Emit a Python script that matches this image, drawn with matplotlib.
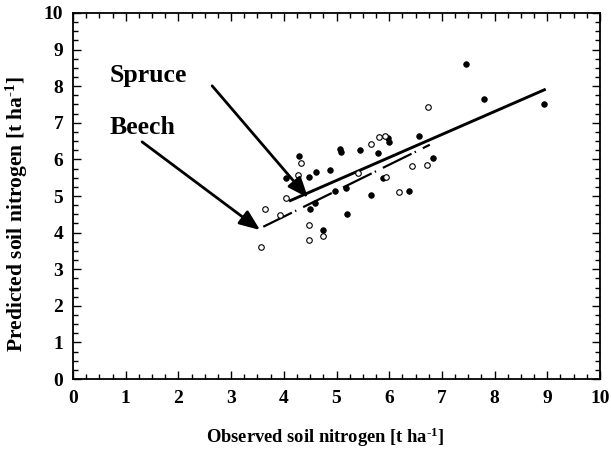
import numpy as np
import matplotlib
matplotlib.use("Agg")
import matplotlib.pyplot as plt
from matplotlib.ticker import MultipleLocator

plt.rcParams["font.family"] = ["Liberation Serif", "DejaVu Serif"]
plt.rcParams["font.weight"] = "bold"
plt.rcParams["mathtext.fontset"] = "custom"
plt.rcParams["mathtext.rm"] = "Liberation Serif:bold"
plt.rcParams["mathtext.bf"] = "Liberation Serif:bold"
plt.rcParams["mathtext.it"] = "Liberation Serif:bold"
plt.rcParams["lines.scale_dashes"] = False

# Spruce plots (filled circles): observed vs predicted soil nitrogen
spruce_obs = [4.28, 4.04, 4.48, 4.62, 4.88, 5.07, 5.09, 5.45, 5.78, 5.97, 6.00,
              5.88, 4.97, 5.18, 5.65, 4.59, 4.50, 5.19, 4.74, 7.45, 7.80, 8.93,
              6.57, 6.84, 6.38]
spruce_pred = [6.10, 5.49, 5.52, 5.65, 5.72, 6.28, 6.21, 6.26, 6.18, 6.58, 6.47,
               5.49, 5.15, 5.21, 5.02, 4.80, 4.64, 4.50, 4.06, 8.61, 7.66, 7.52,
               6.65, 6.03, 5.13]

# Beech plots (open circles)
beech_obs = [4.33, 4.26, 4.05, 3.64, 3.93, 4.48, 3.56, 4.47, 4.74, 5.66, 5.81,
             5.92, 5.41, 5.94, 6.18, 6.73, 6.44, 6.71]
beech_pred = [5.91, 5.57, 4.94, 4.65, 4.49, 4.22, 3.61, 3.79, 3.91, 6.42, 6.60,
              6.65, 5.62, 5.53, 5.12, 7.43, 5.82, 5.84]

# Regression lines: slope, intercept and fitted x range
spruce_fit = (0.628, 2.285)
spruce_range = (4.10, 8.97)
beech_fit = (0.709, 1.60)
beech_range = (3.61, 6.77)

fig = plt.figure(figsize=(6.11, 4.51), dpi=100)
ax = fig.add_axes([0.1195, 0.1596, 0.8625, 0.8116])

ax.scatter(spruce_obs, spruce_pred, s=16, c="black", edgecolors="black",
           linewidths=0.6, zorder=3)
ax.scatter(beech_obs, beech_pred, s=16, facecolors="white", edgecolors="black",
           linewidths=0.8, zorder=3)

xs = np.array(spruce_range)
ax.plot(xs, spruce_fit[0] * xs + spruce_fit[1], color="black", lw=2.1,
        solid_capstyle="butt", zorder=2)
xb = np.array(beech_range)
ax.plot(xb, beech_fit[0] * xb + beech_fit[1], color="black", lw=1.6,
        linestyle=(0, (23, 2.5, 1, 5.5)), dash_capstyle="butt", zorder=2)

arrow = dict(arrowstyle="-|>,head_length=1.25,head_width=0.5", color="black",
             lw=2.0, shrinkA=0, shrinkB=0)
ax.annotate("", xy=(4.46, 4.95), xytext=(2.64, 8.01), arrowprops=arrow)
ax.annotate("", xy=(3.55, 4.07), xytext=(1.31, 6.48), arrowprops=arrow)
ax.text(0.70, 8.3, "Spruce", fontsize=18.5, fontweight="bold", va="center", ha="left")
ax.text(0.70, 6.88, "Beech", fontsize=18.5, fontweight="bold", va="center", ha="left")

ax.set_xlim(0, 10)
ax.set_ylim(0, 10)
ax.xaxis.set_major_locator(MultipleLocator(1))
ax.yaxis.set_major_locator(MultipleLocator(1))
ax.xaxis.set_minor_locator(MultipleLocator(0.25))
ax.yaxis.set_minor_locator(MultipleLocator(0.25))
ax.tick_params(which="both", direction="in", top=True, right=True, width=1.0)
ax.tick_params(which="major", length=5.5, labelsize=14)
ax.tick_params(axis="x", which="major", pad=8)
ax.tick_params(axis="y", which="major", pad=7)
ax.tick_params(which="minor", length=3.5)
for lab in ax.get_xticklabels() + ax.get_yticklabels():
    lab.set_fontweight("bold")
for sp in ax.spines.values():
    sp.set_linewidth(1.3)

ax.set_xlabel(r"Observed soil nitrogen [t ha$^{\text{-1}}$]", fontsize=13.3,
              fontweight="bold", va="center")
ax.set_ylabel(r"Predicted soil nitrogen [t ha$^{\text{-1}}$]", fontsize=15.5,
              fontweight="bold", va="center")
ax.xaxis.set_label_coords(0.478, -0.16)
ax.yaxis.set_label_coords(-0.106, 0.45)

fig.savefig("out.png", dpi=100)
